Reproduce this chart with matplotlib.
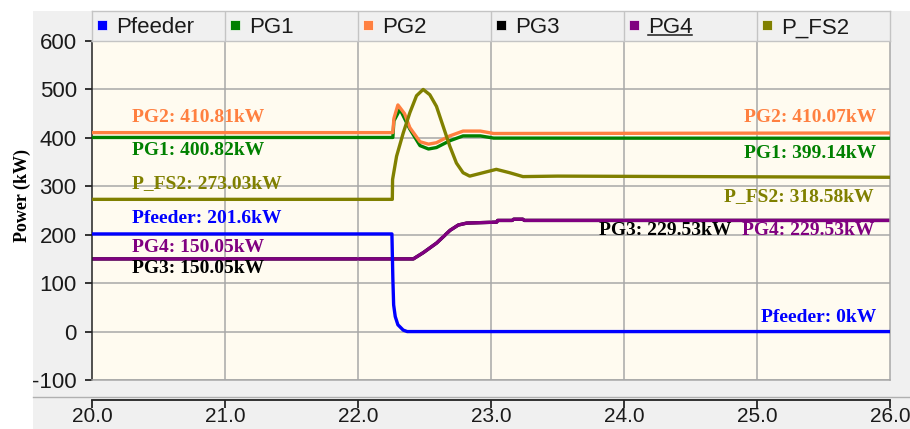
import matplotlib.pyplot as plt
from matplotlib.lines import Line2D
from matplotlib.patches import Rectangle

plt.rcParams['axes.unicode_minus'] = False

# powers in kW against time in s
names = ['Pfeeder', 'PG1', 'PG2', 'PG3', 'PG4', 'P_FS2']
colors = ['#0000ff', '#008000', '#ff8040', '#000000', '#800080', '#808000']

t_feeder = [20.0, 22.255, 22.262, 22.268, 22.28, 22.30, 22.34, 22.37, 26.0]
p_feeder = [201.6, 201.6, 110, 55, 31, 14, 3, 0, 0]

t_g1 = [20.0, 22.262, 22.27, 22.316, 22.35, 22.39, 22.466, 22.53, 22.59, 22.69, 22.79, 22.92, 23.02, 26.0]
p_g1 = [400.82, 400.82, 435, 459, 440, 418, 384, 377, 380, 394, 404, 404, 399.5, 399.14]

t_g2 = [20.0, 22.262, 22.27, 22.30, 22.35, 22.39, 22.466, 22.53, 22.59, 22.69, 22.79, 22.92, 23.02, 26.0]
p_g2 = [410.81, 410.81, 440, 468, 450, 421, 392, 387, 390, 404, 414, 414, 409, 410.07]

t_g4 = [20.0, 22.416, 22.491, 22.592, 22.692, 22.754, 22.817, 23.043, 23.05, 23.16, 23.17, 23.24, 23.25, 26.0]
p_g4 = [150.05, 150.05, 163, 183, 209, 220, 224, 226, 229.5, 229.5, 232, 232, 229.53, 229.53]

# PG3 follows PG4 exactly
t_g3 = list(t_g4)
p_g3 = list(p_g4)

t_fs2 = [20.0, 22.258, 22.26, 22.29, 22.34, 22.39, 22.44, 22.49, 22.54, 22.59, 22.64,
         22.69, 22.74, 22.79, 22.84, 22.94, 23.04, 23.14, 23.24, 23.5, 26.0]
p_fs2 = [273.03, 273.03, 314, 362, 410, 452, 487, 500, 489, 465, 424,
         383, 348, 328, 321, 328, 335, 328, 320, 321, 318.58]

series = {
    'Pfeeder': (t_feeder, p_feeder),
    'PG1': (t_g1, p_g1),
    'PG2': (t_g2, p_g2),
    'PG3': (t_g3, p_g3),
    'PG4': (t_g4, p_g4),
    'P_FS2': (t_fs2, p_fs2),
}

W, H = 910, 429
fig = plt.figure(figsize=(W / 100, H / 100), dpi=100, facecolor='white')

def fx(px):
    return px / W

def fy(py):
    return (H - py) / H

# grey panel behind everything
fig.patches.append(Rectangle((fx(33), 0), 1 - fx(33), fy(11), transform=fig.transFigure,
                             facecolor='#f0f0f0', edgecolor='none', zorder=-5))
fig.lines.append(Line2D([fx(33), 1], [fy(397), fy(397)], transform=fig.transFigure,
                        color='#b0b0b0', lw=1, zorder=-4))

sans = ['Liberation Sans', 'DejaVu Sans']
serif = ['Liberation Serif', 'DejaVu Serif']

# main plot
ax = fig.add_axes([fx(92), fy(380), fx(890) - fx(92), fy(41) - fy(380)])
ax.set_facecolor('#fffbf0')
zorders = {'Pfeeder': 6, 'PG1': 3, 'PG2': 4, 'PG3': 1, 'PG4': 2, 'P_FS2': 5}
for name, c in zip(names, colors):
    t, p = series[name]
    ax.plot(t, p, color=c, lw=2.4, zorder=zorders[name], solid_joinstyle='round')
ax.set_xlim(20, 26)
ax.set_ylim(-100, 600)
ax.set_yticks(range(-100, 601, 100))
ax.set_xticks([21, 22, 23, 24, 25])
ax.grid(True, color='#a8a8a8', lw=1.1)
ax.tick_params(axis='x', length=0, labelbottom=False)
ax.tick_params(axis='y', direction='out', length=5, width=1.1, pad=6,
               labelsize=16, labelcolor='#1a1a1a')
for lbl in ax.get_yticklabels():
    lbl.set_family(sans)
for side in ['top', 'right', 'bottom']:
    ax.spines[side].set_color('#a8a8a8')
    ax.spines[side].set_linewidth(1.1)
ax.spines['left'].set_color('#222222')
ax.spines['left'].set_linewidth(1.1)

# value labels at the start and end of the run
font_lbl = dict(family=serif, weight='bold', size=14)
left_labels = [('PG2', 433.7), ('PG1', 364.7), ('P_FS2', 295.9),
               ('Pfeeder', 224.8), ('PG4', 165.0), ('PG3', 120.4)]
for name, yb in left_labels:
    c = colors[names.index(name)]
    v = series[name][1][0]
    ax.text(20.2985, yb, f'{name}: {v:g}kW', color=c, ha='left', va='baseline',
            zorder=7, **font_lbl)

right_labels = [('PG2', 25.895, 433.4), ('PG1', 25.895, 357.8),
                ('P_FS2', 25.88, 269.7), ('PG4', 25.88, 199.5),
                ('PG3', 24.81, 199.5), ('Pfeeder', 25.895, 20.5)]
for name, xb, yb in right_labels:
    c = colors[names.index(name)]
    v = series[name][1][-1]
    ax.text(xb, yb, f'{name}: {v:g}kW', color=c, ha='right', va='baseline',
            zorder=7, **font_lbl)

fig.text(fx(22), fy(195), 'Power (kW)', rotation=90, ha='center', va='center',
         family=serif, weight='bold', size=13)

# separate time axis strip
axx = fig.add_axes([fx(92), fy(400), fx(890) - fx(92), 1 / H])
axx.set_xlim(20, 26)
axx.set_ylim(0, 1)
axx.patch.set_visible(False)
for side in ['top', 'right', 'left']:
    axx.spines[side].set_visible(False)
axx.spines['bottom'].set_color('#222222')
axx.spines['bottom'].set_linewidth(1.3)
axx.set_yticks([])
ticks_x = [20, 21, 22, 23, 24, 25, 26]
axx.set_xticks(ticks_x)
axx.set_xticklabels([f'{v:.1f}' for v in ticks_x])
axx.tick_params(axis='x', direction='out', length=5.8, width=1.1, pad=-1,
                labelsize=15, labelcolor='#1a1a1a')
for lbl in axx.get_xticklabels():
    lbl.set_family(sans)

# legend header bar
axl = fig.add_axes([fx(92), fy(41), fx(890) - fx(92), fy(11) - fy(41)])
axl.set_xlim(0, 6)
axl.set_ylim(0, 1)
axl.set_facecolor('#f0f0f0')
axl.set_xticks([])
axl.set_yticks([])
for s in axl.spines.values():
    s.set_color('#c4c4c4')
    s.set_linewidth(1)
for i in range(1, 6):
    axl.axvline(i, color='#c4c4c4', lw=1)
for i, (name, c) in enumerate(zip(names, colors)):
    axl.plot(i + 0.075, 0.52, marker='s', ms=7.5, color=c, mec='white', mew=0.5)
    axl.text(i + 0.18, 0.257, name, ha='left', va='baseline', size=16,
             family=sans, color='#1a1a1a')
# PG4 entry is shown selected (underlined)
i4 = names.index('PG4')
axl.plot([i4 + 0.18, i4 + 0.51], [0.2, 0.2], color='#1a1a1a', lw=1.1)

fig.savefig('out.png', dpi=100, facecolor='white')
